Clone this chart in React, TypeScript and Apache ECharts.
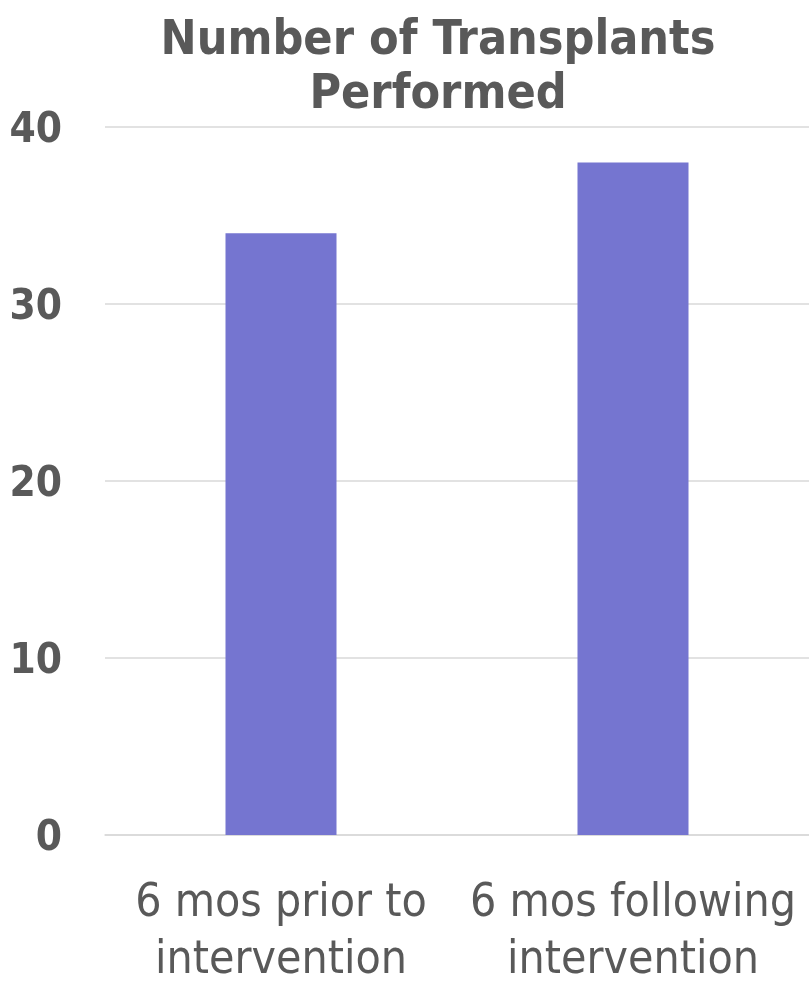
import React, { useEffect, useRef } from "react";
import * as echarts from "echarts";

const titleText = "Number of Transplants\nPerformed";
const categories = ["6 mos prior to\nintervention", "6 mos following\nintervention"];
const transplants = [34, 38];
const yTicks = [0, 10, 20, 30, 40];

const FONT = "'DejaVu Sans Condensed', 'DejaVu Sans', sans-serif";
const GRAY = "#595959";

export default function App() {
  const ref = useRef<HTMLDivElement>(null);
  useEffect(() => {
    const chart = echarts.init(ref.current!, null, { renderer: "svg" });
    chart.setOption({
      animation: false,
      title: {
        text: titleText,
        left: 433,
        top: 5,
        textAlign: "center",
        textStyle: {
          fontFamily: FONT,
          fontWeight: "bold",
          fontSize: 48,
          lineHeight: 54,
          color: GRAY,
        },
      },
      grid: { left: 105, right: 0, top: 127, bottom: 140, containLabel: false },
      xAxis: {
        type: "category",
        data: categories,
        axisLine: { show: true, lineStyle: { color: "#d9d9d9", width: 1.5 } },
        axisTick: { show: false },
        axisLabel: {
          fontFamily: FONT,
          fontSize: 46,
          lineHeight: 57,
          color: GRAY,
          margin: 36,
          interval: 0,
        },
      },
      yAxis: {
        type: "value",
        min: yTicks[0],
        max: yTicks[yTicks.length - 1],
        interval: 10,
        axisLine: { show: false },
        axisTick: { show: false },
        splitLine: { lineStyle: { color: "#d9d9d9", width: 1.5 } },
        axisLabel: {
          fontFamily: FONT,
          fontSize: 42,
          fontWeight: "bold",
          color: GRAY,
          margin: 43,
        },
      },
      series: [
        {
          type: "bar",
          data: transplants,
          barWidth: 111,
          itemStyle: { color: "#7575D0" },
        },
      ],
    });
    return () => chart.dispose();
  }, []);
  return (
    <div
      ref={ref}
      style={{ position: "fixed", left: 0, top: 0, width: 809, height: 985 }}
    />
  );
}
